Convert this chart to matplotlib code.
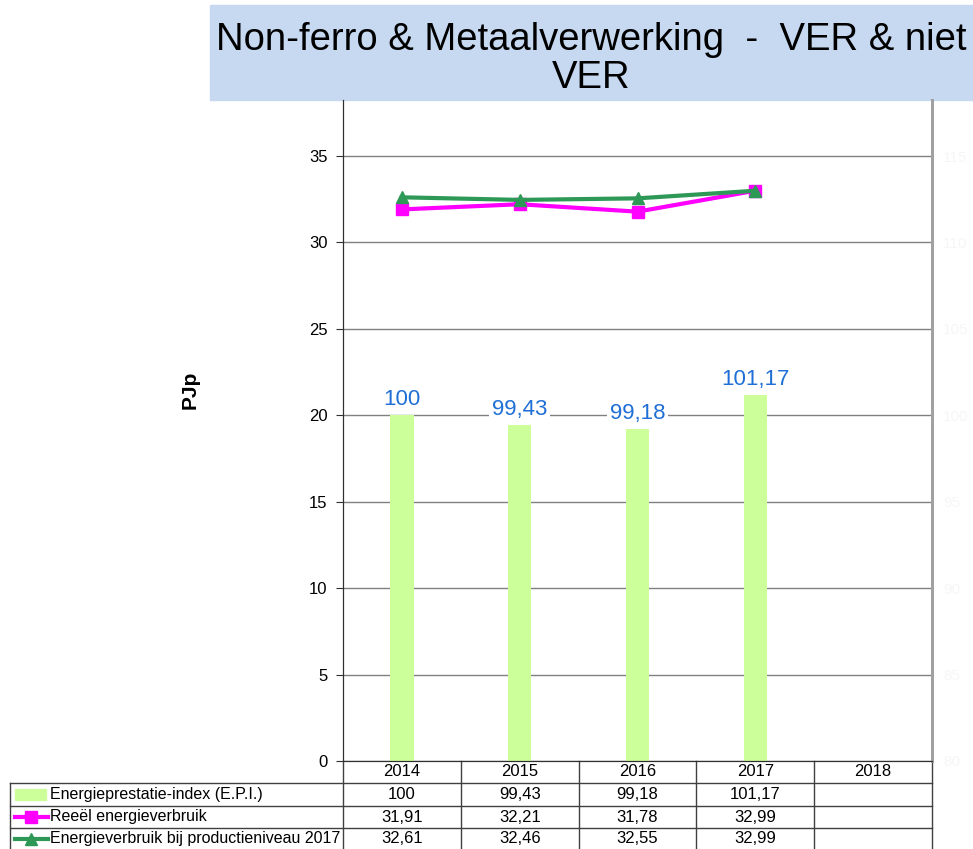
import numpy as np
import matplotlib.pyplot as plt
from matplotlib.patches import Rectangle
from matplotlib.lines import Line2D

plt.rcParams['font.family'] = ['Liberation Sans', 'DejaVu Sans']

# data
years = ['2014', '2015', '2016', '2017', '2018']
epi = [100, 99.43, 99.18, 101.17]
reeel = [31.91, 32.21, 31.78, 32.99]
prodniveau = [32.61, 32.46, 32.55, 32.99]
epi_labels = ['100', '99,43', '99,18', '101,17']
reeel_labels = ['31,91', '32,21', '31,78', '32,99']
prod_labels = ['32,61', '32,46', '32,55', '32,99']
row_names = ['Energieprestatie-index (E.P.I.)', 'Reeël energieverbruik',
             'Energieverbruik bij productieniveau 2017']

W, H = 973, 849
bar_col = '#ccff99'
mag = '#ff00ff'
grn = '#2e9957'
blue = '#1f6fd6'

def fx(x):
    return x / W

def fy(y):
    return 1 - y / H

fig = plt.figure(figsize=(W / 100, H / 100), dpi=100)

# title box
fig.patches.append(Rectangle((fx(210), fy(100)), fx(763), 95 / H,
                             transform=fig.transFigure, color='#c6d9f1', zorder=0))
fig.text(fx(591), fy(59), 'Non-ferro & Metaalverwerking  -  VER & niet\nVER',
         ha='center', va='center', fontsize=27.5, linespacing=1.1, color='black')

left, right, top, bottom = 343, 932, 100, 761
ax = fig.add_axes([fx(left), fy(bottom), fx(right - left), (bottom - top) / H])
ax2 = ax.twinx()
ax.set_zorder(2)
ax2.set_zorder(1)
ax.patch.set_visible(False)

x = np.arange(len(years))
ymax = (bottom - top) / ((bottom - 156) / 35)

# bars on the (nearly invisible) right axis 80-115
ax2.set_ylim(80, 80 + ymax)
ax2.set_yticks(range(80, 116, 5))
ax2.tick_params(axis='y', length=0, labelcolor='#f6f6f6', labelsize=11, pad=8)
ax2.grid(axis='y', color='#808080', lw=1)
ax2.set_axisbelow(True)
ax2.bar(x[:len(epi)], np.array(epi) - 80, bottom=80, width=0.2, color=bar_col, zorder=2)
for xi, v, lab in zip(x, epi, epi_labels):
    ax2.annotate(lab, (xi, v), xytext=(0, 4), textcoords='offset points',
                 ha='center', va='bottom', color=blue, fontsize=16, zorder=3,
                 bbox=dict(boxstyle='square,pad=0.12', fc='white', ec='none'))

# lines on the left axis
ax.plot(x[:len(reeel)], reeel, color=mag, lw=3, marker='s', ms=9)
ax.plot(x[:len(prodniveau)], prodniveau, color=grn, lw=3, marker='^', ms=9)

ax.set_xlim(-0.5, len(years) - 0.5)
ax.set_ylim(0, ymax)
ax.set_yticks(range(0, 36, 5))
ax.tick_params(axis='y', labelsize=12, length=5, color='#303030', pad=6)
ax.set_xticks([])
ax2.set_xticks([])
for a in (ax, ax2):
    a.spines['top'].set_visible(False)
    a.spines['left'].set_color('#303030')
    a.spines['bottom'].set_color('#303030')
    a.spines['right'].set_color('#a0a0a0')
    a.spines['right'].set_linewidth(2)
ax.set_ylabel('PJp', fontsize=15, fontweight='bold')
ax.yaxis.set_label_coords((200 - left) / (right - left), (bottom - 390) / (bottom - top))

# data table below the plot
lc = '#404040'
col_w = (right - left) / len(years)
edges = [left + i * col_w for i in range(len(years) + 1)]
rows_y = [761, 783, 806, 828, 849]

def hline(x0, x1, y):
    fig.add_artist(Line2D([fx(x0), fx(x1)], [fy(y), fy(y)], color=lc, lw=1,
                          transform=fig.transFigure))

def vline(xv, y0, y1):
    fig.add_artist(Line2D([fx(xv), fx(xv)], [fy(y0), fy(y1)], color=lc, lw=1,
                          transform=fig.transFigure))

for yv in rows_y[1:4]:
    hline(10, right, yv)
for e in edges:
    vline(e, 761, 849)
vline(10, 783, 849)

for i, yr in enumerate(years):
    cx = left + (i + 0.5) * col_w
    fig.text(fx(cx), fy(772), yr, ha='center', va='center', fontsize=12)
for r, labs in enumerate([epi_labels, reeel_labels, prod_labels]):
    cy = (rows_y[r + 1] + rows_y[r + 2]) / 2
    for i, lab in enumerate(labs):
        cx = left + (i + 0.5) * col_w
        fig.text(fx(cx), fy(cy), lab, ha='center', va='center', fontsize=12)
    fig.text(fx(50), fy(cy), row_names[r], ha='left', va='center', fontsize=11.5)

# legend keys in the row labels
fig.patches.append(Rectangle((fx(15), fy(800)), fx(31), 11 / H,
                             transform=fig.transFigure, color=bar_col))
fig.add_artist(Line2D([fx(15), fx(48)], [fy(817), fy(817)], color=mag, lw=3,
                      transform=fig.transFigure))
fig.add_artist(Line2D([fx(31)], [fy(817)], color=mag, marker='s', ms=8,
                      transform=fig.transFigure))
fig.add_artist(Line2D([fx(15), fx(48)], [fy(839), fy(839)], color=grn, lw=3,
                      transform=fig.transFigure))
fig.add_artist(Line2D([fx(31)], [fy(839)], color=grn, marker='^', ms=8,
                      transform=fig.transFigure))

fig.savefig('out.png', dpi=100)
